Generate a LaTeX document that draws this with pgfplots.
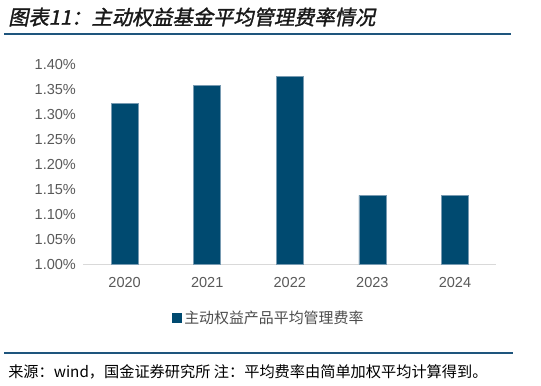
\documentclass[border=0pt]{standalone}
\usepackage{pgfplots}
\pgfplotsset{compat=1.18}
\usepackage{fontspec}
\setmainfont{Liberation Sans}
\newfontfamily\cjk{Noto Sans CJK SC}
\newfontfamily\cjktitle[FakeSlant=0.2,FakeBold=1.5]{Noto Sans CJK SC}
\definecolor{barc}{RGB}{0,74,112}
\definecolor{baredge}{RGB}{120,155,178}
\definecolor{linec}{RGB}{30,85,125}
\definecolor{tickc}{RGB}{89,89,89}
\definecolor{axc}{RGB}{217,217,217}
\begin{document}
\begin{tikzpicture}
\begin{scope}[x=0.75pt,y=-0.75pt]
\path[use as bounding box] (0,0) rectangle (541,385);
% title
\node[anchor=west,inner sep=0pt,text=black!90] at (8,17) {\cjktitle\fontsize{15.2pt}{16pt}\selectfont 图表11：主动权益基金平均管理费率情况};
\draw[linec,line width=1.2pt] (4,34) -- (511,34);
\draw[linec,line width=1.2pt] (4,353) -- (513,353);
\node[anchor=west,inner sep=0pt,text=black] at (8,372) {\cjk\fontsize{11.4pt}{12pt}\selectfont 来源：wind，国金证券研究所 注：平均费率由简单加权平均计算得到。};
\end{scope}
\begin{axis}[
  at={(62.475pt,-198.225pt)}, anchor=south west,
  scale only axis, width=309.75pt, height=150pt,
  xmin=-0.5, xmax=4.5, ymin=1.0, ymax=1.40,
  axis x line*=bottom, axis y line*=left,
  y axis line style={draw=none},
  x axis line style={draw=axc, line width=0.8pt},
  xtick={0,1,2,3,4},
  xticklabels={2020,2021,2022,2023,2024},
  extra x ticks={-0.5,0.5,1.5,2.5,3.5,4.5},
  extra x tick labels={},
  extra x tick style={major tick length=3pt, tick style={draw=axc, line width=0.8pt}, tick align=inside},
  x tick style={draw=none},
  ytick={1.00,1.05,1.10,1.15,1.20,1.25,1.30,1.35,1.40},
  y tick style={draw=none},
  yticklabel={\pgfmathprintnumber[fixed,fixed zerofill,precision=2]{\tick}\%},
  /pgf/number format/assume math mode=true,
  ticklabel style={font=\fontsize{10.9pt}{12pt}\selectfont, text=tickc},
  xtick pos=bottom,
  yticklabel style={xshift=-2pt},
  xticklabel style={yshift=-2pt},
  ybar, bar width=20.25pt,
  legend style={at={(0.4496,-0.2685)}, anchor=center, draw=none, fill=none,
    font=\cjk\fontsize{11.2pt}{12pt}\selectfont, text=black!70, inner sep=0pt},
  legend image code/.code={\fill[barc] (0pt,-3.4pt) rectangle (6.8pt,3.4pt);},
  clip=false,
]
\addplot[fill=barc, draw=baredge, line width=0.5pt] coordinates {(0,1.321) (1,1.357) (2,1.375) (3,1.138) (4,1.138)};
\addlegendentry{主动权益产品平均管理费率}
\end{axis}
\end{tikzpicture}
\end{document}
